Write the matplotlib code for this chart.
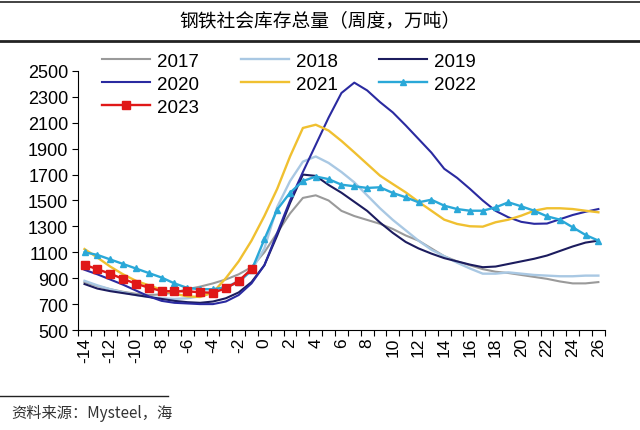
import numpy as np
import matplotlib
matplotlib.use("Agg")
import matplotlib.pyplot as plt
from matplotlib.lines import Line2D

plt.rcParams['font.family'] = ['Liberation Sans', 'Noto Sans CJK SC']

# weeks relative to Spring Festival
weeks = list(range(-14, 27))
tick_labels = [str(w) for w in range(-14, 27, 2)]

y2017 = [870, 840, 815, 795, 780, 770, 775, 790, 815, 835, 860, 890, 930, 985,
         1100, 1250, 1400, 1520, 1540, 1500, 1420, 1380, 1350, 1320, 1280, 1230, 1190,
         1130, 1070, 1030, 1000, 970, 950, 940, 925, 910, 895, 875, 860, 860, 870]
y2018 = [880, 845, 815, 790, 770, 755, 745, 740, 745, 760, 790, 830, 880, 960,
         1130, 1450, 1650, 1800, 1840, 1790, 1720, 1640, 1540, 1440, 1350, 1270, 1190,
         1120, 1070, 1020, 975, 935, 935, 945, 935, 925, 920, 915, 915, 920, 920]
y2019 = [855, 820, 800, 785, 770, 755, 740, 725, 715, 710, 720, 745, 790, 870,
         1000, 1230, 1480, 1700, 1690, 1620, 1560, 1490, 1420, 1330, 1250, 1180, 1130,
         1090, 1055, 1030, 1005, 985, 990, 1010, 1030, 1050, 1075, 1110, 1145, 1175, 1190]
y2020 = [965, 930, 890, 850, 805, 760, 725, 710, 705, 700, 700, 720, 770, 860,
         1000, 1250, 1500, 1720, 1930, 2140, 2330, 2410, 2350, 2260, 2180, 2080, 1975,
         1870, 1745, 1675, 1590, 1500, 1420, 1370, 1335, 1320, 1322, 1355, 1388, 1413, 1434]
y2021 = [1125, 1060, 990, 930, 880, 845, 810, 780, 760, 755, 790, 900, 1030, 1190,
         1380, 1590, 1840, 2060, 2085, 2040, 1960, 1872, 1782, 1692, 1627, 1563, 1490,
         1421, 1352, 1319, 1301, 1298, 1332, 1352, 1383, 1421, 1440, 1440, 1434, 1421, 1409]
y2022 = [1100, 1080, 1045, 1010, 975, 940, 905, 860, 825, 815, 815, 830, 870, 960,
         1200, 1430, 1560, 1650, 1685, 1665, 1622, 1610, 1597, 1602, 1558, 1525, 1486,
         1506, 1460, 1434, 1421, 1421, 1447, 1486, 1455, 1421, 1378, 1352, 1293, 1234, 1190]
y2023 = [1004, 969, 935, 894, 858, 827, 801, 799, 799, 791, 788, 822, 878, 971]

fig = plt.figure(figsize=(6.4, 4.31), dpi=100)
ax = fig.add_axes([0.122, 0.232, 0.823, 0.601])

ax.plot(weeks, y2017, color='#9a9a9a', lw=1.5)
ax.plot(weeks, y2018, color='#a9c8e3', lw=1.7)
ax.plot(weeks, y2019, color='#1c1c5e', lw=1.5)
ax.plot(weeks, y2020, color='#2a2aa0', lw=1.5)
ax.plot(weeks, y2021, color='#f0c030', lw=1.7)
ax.plot(weeks, y2022, color='#2aa8d8', lw=1.7, marker='^', ms=4.5)
ax.plot(weeks[:len(y2023)], y2023, color='#e01818', lw=1.7, marker='s', ms=5.5)

ax.set_xlim(-14.5, 26.5)
ax.set_ylim(500, 2500)
ax.set_yticks(range(500, 2501, 200))
ax.tick_params(axis='y', direction='out', length=4, labelsize=13, pad=3)

# category-style axis: ticks between weeks, labels centered
ax.set_xticks(np.arange(-14.5, 26.6, 1))
ax.set_xticklabels([])
ax.set_xticks(range(-14, 27, 2), minor=True)
ax.set_xticklabels(tick_labels, minor=True, rotation=90)
ax.tick_params(axis='x', which='major', direction='out', length=4)
ax.tick_params(axis='x', which='minor', length=0, labelsize=12.5, pad=5)

for s in ['top', 'right']:
    ax.spines[s].set_visible(False)

handles = [
    Line2D([], [], color='#9a9a9a', lw=1.5),
    Line2D([], [], color='#2a2aa0', lw=1.5),
    Line2D([], [], color='#e01818', lw=1.7, marker='s', ms=5.5),
    Line2D([], [], color='#a9c8e3', lw=1.7),
    Line2D([], [], color='#f0c030', lw=1.7),
    Line2D([], [], color='#1c1c5e', lw=1.5),
    Line2D([], [], color='#2aa8d8', lw=1.7, marker='^', ms=4.5),
]
labels = ['2017', '2020', '2023', '2018', '2021', '2019', '2022']
fig.legend(handles, labels, ncol=3, loc='upper left', bbox_to_anchor=(0.16, 0.875),
           frameon=False, fontsize=13.5, handlelength=2.56, handletextpad=0.37,
           columnspacing=2.2, labelspacing=0.31, borderpad=0, borderaxespad=0)

# header / footer
fig.add_artist(Line2D([0, 1], [0.993, 0.993], color='#222222', lw=1.2))
fig.add_artist(Line2D([0, 1], [0.902, 0.902], color='#222222', lw=2))
fig.text(0.5, 0.952, '钢铁社会库存总量（周度，万吨）', ha='center', va='center',
         fontsize=13.5, family=['Noto Sans CJK SC'])
fig.add_artist(Line2D([0, 0.262], [0.079, 0.079], color='#222222', lw=1))
fig.text(0.018, 0.04, '资料来源：Mysteel，海', ha='left', va='center',
         fontsize=11, family=['Noto Sans CJK SC'], color='#333333')

fig.savefig('out.png', dpi=100)
